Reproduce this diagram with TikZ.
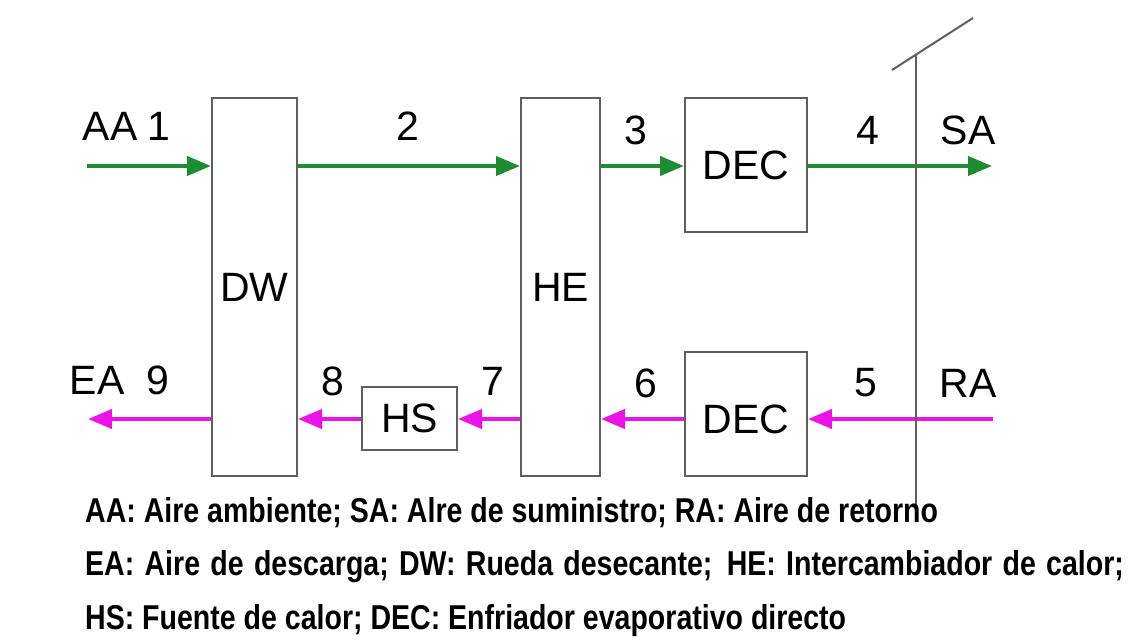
\documentclass[tikz,border=0pt]{standalone}
\usepackage{fontspec}
\setmainfont{Liberation Sans}
\newfontfamily\legendfont[FakeStretch=0.827]{Liberation Sans}
\usetikzlibrary{arrows.meta}
\definecolor{flowgreen}{RGB}{30,140,50}
\definecolor{flowmag}{RGB}{235,20,230}
\definecolor{boxgray}{RGB}{95,95,95}
\tikzset{
  blk/.style={draw=boxgray, line width=2pt, inner sep=0pt, font=\fontsize{41}{45}\selectfont},
  lbl/.style={inner sep=0pt, font=\fontsize{41}{45}\selectfont},
  garrow/.style={draw=flowgreen, line width=4pt, -{Triangle[length=24pt,width=19pt]}},
  marrow/.style={draw=flowmag, line width=4pt, -{Triangle[length=24pt,width=19pt]}},
  wall/.style={draw=boxgray, line width=2pt},
  legend/.style={anchor=west, inner sep=0pt, font=\legendfont\bfseries\fontsize{34.5}{38}\selectfont}
}
\begin{document}
\begin{tikzpicture}[x=1pt,y=-1pt]
\useasboundingbox (0,0) rectangle (1132,640);
% boxes
\node[blk, minimum width=85pt, minimum height=378pt] (DW) at (254.5,287) {DW};
\node[blk, minimum width=79pt, minimum height=378pt] (HE) at (560.5,287) {HE};
\node[blk, minimum width=122pt, minimum height=134pt] (DEC1) at (746,165) {DEC};
\node[blk, minimum width=122pt, minimum height=124pt] (DEC2) at (746,414) {};
\node[lbl] at (746,419) {DEC};
\node[blk, minimum width=95pt, minimum height=63pt] (HS) at (409.5,418.5) {HS};
% reference rows
\coordinate (yT) at (0,166);
\coordinate (yB) at (0,419);
\coordinate (AAin) at (87,166);
\coordinate (SAout) at (992,166);
\coordinate (RAin) at (993,419);
\coordinate (EAout) at (88,419);
% top arrows
\draw[garrow] (AAin) -- (DW.west |- yT);
\draw[garrow] (DW.east |- yT) -- (HE.west |- yT);
\draw[garrow] (HE.east |- yT) -- (DEC1.west |- yT);
\draw[garrow] (DEC1.east |- yT) -- (SAout);
% bottom arrows
\draw[marrow] (RAin) -- (DEC2.east |- yB);
\draw[marrow] (DEC2.west |- yB) -- (HE.east |- yB);
\draw[marrow] (HE.west |- yB) -- (HS.east |- yB);
\draw[marrow] (HS.west |- yB) -- (DW.east |- yB);
\draw[marrow] (DW.west |- yB) -- (EAout);
% wall
\coordinate (vtop) at (916,55);
\coordinate (vbot) at (916,519);
\coordinate (d1) at (892,70);
\coordinate (d2) at (973,18);
\draw[wall] (vtop) -- (vbot);
\draw[wall] (d1) -- (d2);
% labels
\node[lbl] (lAA) at (110,126) {AA};
\node[lbl] (l1) at (159,126) {1};
\node[lbl] (l2) at (408,126) {2};
\node[lbl] (l3) at (636,130) {3};
\node[lbl] (l4) at (868,130) {4};
\node[lbl] (lSA) at (968,130) {SA};
\node[lbl] (lEA) at (97,380) {EA};
\node[lbl] (l9) at (158,380) {9};
\node[lbl] (l8) at (333,381) {8};
\node[lbl] (l7) at (493,381) {7};
\node[lbl] (l6) at (646,383) {6};
\node[lbl] (l5) at (866,383) {5};
\node[lbl] (lRA) at (968,383) {RA};
% legend
\node[legend] (L1) at (85,513) {AA: Aire ambiente; SA: Alre de suministro; RA: Aire de retorno};
\node[legend] (L2) at (85,567) {\spaceskip=10.3pt EA: Aire de descarga; DW: Rueda desecante;\hspace{4pt} HE: Intercambiador de calor;};
\node[legend] (L3) at (85,621) {HS: Fuente de calor; DEC: Enfriador evaporativo directo};
\end{tikzpicture}
\end{document}
